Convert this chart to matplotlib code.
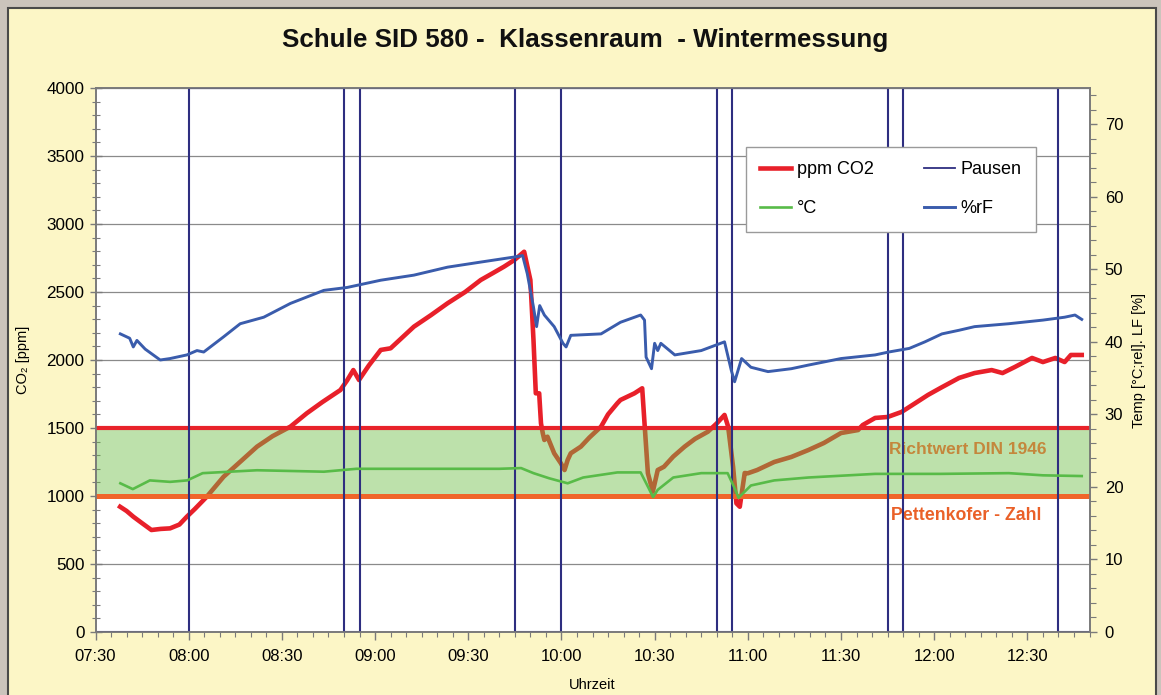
import matplotlib
matplotlib.use("Agg")
import matplotlib.pyplot as plt
from matplotlib.patches import Rectangle
from matplotlib.lines import Line2D
from matplotlib.ticker import MultipleLocator, FuncFormatter

plt.rcParams['font.family'] = ['Liberation Sans', 'DejaVu Sans']

# ---------------- data ----------------
co2_times = ["07:37:55", "07:40", "07:42:10", "07:45", "07:48", "07:51", "07:54", "07:57",
             "07:59:25", "08:02", "08:05:50", "08:11:15", "08:17", "08:22", "08:27",
             "08:32:45", "08:38", "08:43", "08:48:50", "08:51", "08:53", "08:54:50",
             "08:58", "09:01:50", "09:05", "09:12:30", "09:18", "09:23:20", "09:29",
             "09:34", "09:38", "09:41:30", "09:44:50", "09:48", "09:50", "09:51",
             "09:51:45", "09:52:50", "09:53:25", "09:54", "09:54:30", "09:55:30",
             "09:57:40", "09:59:50", "10:01", "10:02", "10:03", "10:06:15", "10:09",
             "10:12:45", "10:15", "10:18", "10:19", "10:23:30", "10:26", "10:26:45",
             "10:27:50", "10:29:25", "10:31", "10:33", "10:36", "10:39:40", "10:43",
             "10:47:10", "10:50", "10:52:30", "10:53:40", "10:55:15", "10:56:20",
             "10:57:25", "10:59", "11:00", "11:03", "11:08:30", "11:14", "11:19:30",
             "11:24:30", "11:30", "11:35:30", "11:37", "11:41", "11:45", "11:49:30",
             "11:54", "11:58", "12:02", "12:08", "12:13", "12:18:30", "12:22", "12:26",
             "12:31:30", "12:35", "12:39", "12:42", "12:44", "12:47:30"]
co2_ppm = [921, 890, 848, 800, 750, 758, 762, 790,
           848, 905, 995, 1142, 1260, 1363, 1440,
           1510, 1608, 1690, 1779, 1850, 1926, 1853,
           1960, 2074, 2086, 2245, 2330, 2417, 2500,
           2588, 2640, 2686, 2735, 2796, 2588, 2147,
           1755, 1755, 1534, 1461, 1412, 1436,
           1314, 1240, 1191, 1265, 1314, 1363, 1430,
           1510, 1600, 1682, 1706, 1755, 1792, 1534,
           1167, 1032, 1191, 1215, 1290, 1363, 1420,
           1473, 1534, 1596, 1510, 1216, 946,
           921, 1169, 1167, 1191, 1250, 1287, 1338,
           1390, 1463, 1485, 1522, 1574, 1581, 1618,
           1684, 1743, 1794, 1868, 1904, 1926, 1904, 1949,
           2015, 1985, 2015, 1985, 2037, 2037]

temp_times = ["07:38", "07:42", "07:47:30", "07:54", "07:59:30", "08:04:30", "08:22",
              "08:43:30", "08:54", "09:05", "09:40", "09:47", "09:51", "09:56", "10:02",
              "10:07", "10:18", "10:25:30", "10:28", "10:29:30", "10:31", "10:36",
              "10:45", "10:53:30", "10:56", "10:57", "11:01", "11:08:30", "11:19:30",
              "11:41", "12:02", "12:24", "12:35", "12:47:30"]
temp_c = [20.5, 19.7, 20.9, 20.7, 20.9, 21.9, 22.3,
          22.1, 22.5, 22.5, 22.5, 22.6, 21.9, 21.2, 20.5,
          21.3, 22.0, 22.0, 19.9, 18.6, 19.6, 21.3,
          21.9, 21.9, 19.6, 18.5, 20.2, 20.9, 21.3,
          21.8, 21.8, 21.9, 21.6, 21.5]

rf_times = ["07:38", "07:41", "07:42:10", "07:43:20", "07:46", "07:50:50", "07:54",
            "07:59:25", "08:02:40", "08:04:50", "08:11:15", "08:16:35", "08:24:10",
            "08:32:45", "08:43:30", "08:51", "09:01:50", "09:12:30", "09:23:20",
            "09:34", "09:44:50", "09:47:30", "09:49", "09:51", "09:52", "09:53",
            "09:54:30", "09:57:40", "10:00:30", "10:01:30", "10:03", "10:12:45",
            "10:19", "10:25:30", "10:26:45", "10:27:15", "10:29", "10:30", "10:31",
            "10:32", "10:36:30", "10:45", "10:52:30", "10:54:40", "10:55:45",
            "10:58", "11:01", "11:06:30", "11:14", "11:19:30", "11:30", "11:41",
            "11:45:20", "11:52", "11:57", "12:02:30", "12:08", "12:13", "12:24",
            "12:35", "12:42", "12:45:20", "12:47:30"]
rf_pct = [41.1, 40.5, 39.3, 40.2, 39.0, 37.5, 37.7,
          38.2, 38.8, 38.6, 40.7, 42.5, 43.4,
          45.3, 47.1, 47.5, 48.5, 49.2, 50.3,
          51.0, 51.7, 51.9, 49.4, 44.8, 42.1, 45.0,
          43.7, 42.1, 39.8, 39.3, 40.9, 41.1,
          42.7, 43.7, 43.0, 37.9, 36.3, 39.8, 38.8,
          39.8, 38.2, 38.8, 40.0, 36.1, 34.5,
          37.7, 36.5, 35.9, 36.3, 36.8, 37.7, 38.2,
          38.6, 39.1, 40.0, 41.1, 41.6, 42.1, 42.5,
          43.0, 43.4, 43.7, 43.1]

pausen_times = ["07:30", "08:00", "08:50", "08:55", "09:45", "10:00", "10:50", "10:55",
                "11:45", "11:50", "12:40", "12:50"]
pausen_vals = [0, 4000, 0, 4000, 0, 4000, 0, 4000, 0, 4000, 0, 0]

richtwert_ppm = 1500
pettenkofer_ppm = 1000

x_start, x_end = "07:30", "12:50"


def tmin(s):
    p = [int(v) for v in s.split(":")]
    while len(p) < 3:
        p.append(0)
    return p[0] * 60 + p[1] + p[2] / 60.0


def fmt_time(v, pos=None):
    v = int(round(v))
    return f"{v // 60:02d}:{v % 60:02d}"


# ---------------- figure ----------------
W, H = 1161, 695
fig = plt.figure(figsize=(W / 100, H / 100), dpi=100, facecolor="#cbc4bc")

panel = Rectangle((8 / W, -0.05), (1156 - 8) / W, 1.05 - 8 / H,
                  transform=fig.transFigure, facecolor="#fcf6c6",
                  edgecolor="#4a4a4a", linewidth=1.5, zorder=-10)
fig.patches.append(panel)

L, R, T, B = 95.5, 1089.5, 88, 632
ax = fig.add_axes([L / W, 1 - B / H, (R - L) / W, (B - T) / H])
ax.set_facecolor("white")
ax2 = ax.twinx()

# CO2
ax.plot([tmin(t) for t in co2_times], co2_ppm, color="#e8202a", lw=3.3,
        solid_joinstyle="round", zorder=2)
# band
ax.axhspan(pettenkofer_ppm, richtwert_ppm, facecolor="#6ebe46", alpha=0.45,
           lw=0, zorder=3)
ax.axhline(richtwert_ppm, color="#e8232a", lw=3.0, zorder=3.5)
ax.axhline(pettenkofer_ppm, color="#f0652a", lw=3.6, zorder=3.5)
# Pausen
ax.plot([tmin(t) for t in pausen_times], pausen_vals, color="#2e2e80", lw=1.5,
        drawstyle="steps-post", zorder=4)

ax.text(tmin("11:45:20"), 1340, "Richtwert DIN 1946", color="#c4873c",
        fontsize=12.5, fontweight="bold", va="center", ha="left", zorder=3.8)
ax.text(tmin("11:46"), 853, "Pettenkofer - Zahl", color="#ea6028",
        fontsize=12.8, fontweight="bold", va="center", ha="left", zorder=3.8)

# right axis series
ax2.plot([tmin(t) for t in temp_times], temp_c, color="#58bb48", lw=1.9, zorder=3)
ax2.plot([tmin(t) for t in rf_times], rf_pct, color="#3a5cac", lw=2.1, zorder=3)

# axes setup
ax.set_xlim(tmin(x_start), tmin(x_end))
ax.set_ylim(0, 4000)
ax2.set_ylim(0, 75)

ax.xaxis.set_major_locator(MultipleLocator(30))
ax.xaxis.set_minor_locator(MultipleLocator(5))
ax.xaxis.set_major_formatter(FuncFormatter(fmt_time))
ax.yaxis.set_major_locator(MultipleLocator(500))
ax.yaxis.set_minor_locator(MultipleLocator(100))
ax2.yaxis.set_major_locator(MultipleLocator(10))
ax2.yaxis.set_minor_locator(MultipleLocator(2))

ax.grid(axis="y", which="major", color="#8a8a8a", lw=0.9, zorder=1)
ax.set_axisbelow(True)

spine_c = "#7a7a7a"
for a in (ax, ax2):
    for s in a.spines.values():
        s.set_color(spine_c)
        s.set_linewidth(1.2)

ax.tick_params(axis="y", which="major", direction="inout", length=8, width=1,
               color=spine_c, labelsize=12.3, pad=4)
ax.tick_params(axis="y", which="minor", direction="inout", length=6, width=0.8,
               color=spine_c)
ax.tick_params(axis="x", which="major", direction="out", length=6, width=1,
               color=spine_c, labelsize=12, pad=6)
ax.tick_params(axis="x", which="minor", direction="out", length=3.5, width=0.8,
               color=spine_c)
ax2.tick_params(axis="y", which="major", direction="out", length=5, width=1,
                color=spine_c, labelsize=12, pad=6)
ax2.tick_params(axis="y", which="minor", direction="out", length=4, width=0.8,
                color=spine_c)

ax.set_xlabel("Uhrzeit", fontsize=10.5, labelpad=10)
ax.set_ylabel("CO\u2082 [ppm]", fontsize=10.5, labelpad=12)
ax2.set_ylabel("Temp [\u00b0C;rel]. LF [%]", fontsize=10.5, labelpad=6)

fig.text(585 / W, 1 - 40 / H, "Schule SID 580 -  Klassenraum  - Wintermessung",
         ha="center", va="center", fontsize=18.7, fontweight="bold", color="#111111")

# legend
handles = [Line2D([], [], color="#e8202a", lw=3.3),
           Line2D([], [], color="#58bb48", lw=1.9),
           Line2D([], [], color="#2e2e80", lw=1.3),
           Line2D([], [], color="#3a5cac", lw=2.1)]
labels = ["ppm CO2", "\u00b0C", "Pausen", "%rF"]
leg = ax2.legend(handles, labels, ncol=2, loc="upper left",
                 bbox_to_anchor=((746 - L) / (R - L), 1 - (147 - T) / (B - T)),
                 fontsize=13, frameon=True, fancybox=False, borderpad=0.8,
                 handlelength=1.7, handletextpad=0.3, columnspacing=2.8,
                 labelspacing=1.2, borderaxespad=0)
leg.get_frame().set_edgecolor("#9a9a9a")
leg.get_frame().set_linewidth(1.0)
leg.get_frame().set_facecolor("white")
leg.get_frame().set_alpha(1)

fig.savefig("out.png", dpi=100, facecolor=fig.get_facecolor())
